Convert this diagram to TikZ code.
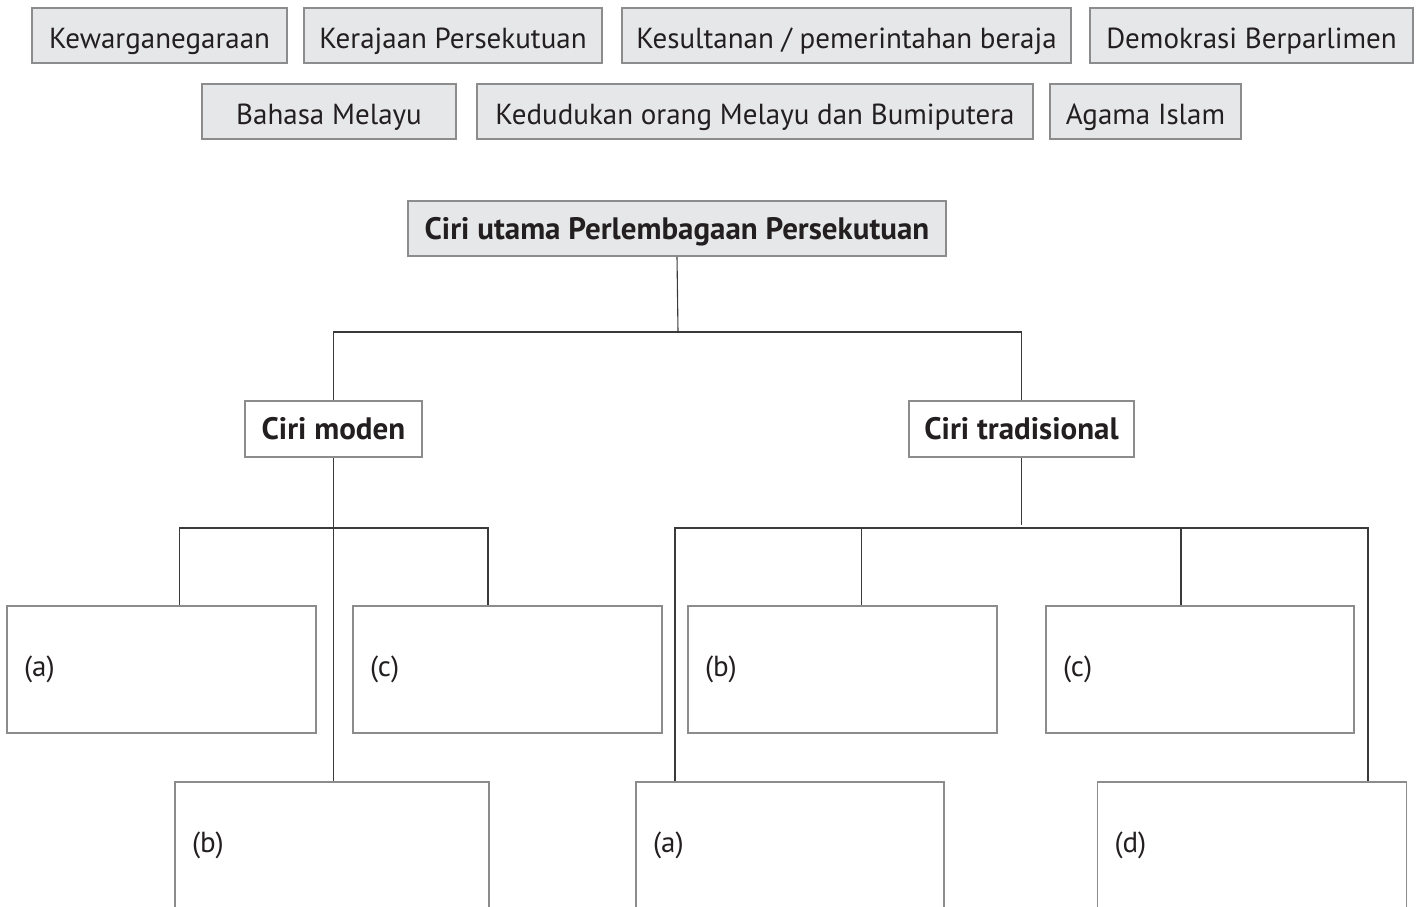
\documentclass[tikz,border=0pt]{standalone}
\usepackage{fontspec}
\setmainfont{PT Sans}
\usetikzlibrary{positioning}
\definecolor{kelabuIsi}{HTML}{E6E7E8}
\definecolor{kelabuGaris}{HTML}{8C8C8C}
\definecolor{hitamTeks}{HTML}{231F20}
\definecolor{hitamGaris}{HTML}{3A3A3A}

\tikzset{
    pilihan/.style = {draw=kelabuGaris, fill=kelabuIsi, line width=1.6pt, minimum height=55pt,
        inner sep=0pt, text height=26pt, text depth=0pt, text=hitamTeks, font=\fontsize{29}{33}\selectfont},
    tajuk/.style = {pilihan, font=\fontsize{31}{35}\selectfont\bfseries, text height=21pt},
    ciri/.style = {tajuk, fill=white, minimum height=56pt},
    jawapan/.style = {draw=kelabuGaris, fill=white, line width=1.6pt, minimum height=127pt,
        inner xsep=17pt, inner ysep=0pt, align=left, text=hitamTeks, font=\fontsize{29}{33}\selectfont},
    garis/.style = {draw=hitamGaris, line width=1.1pt}
}

\begin{document}
\begin{tikzpicture}[x = 1pt, y = -1pt]

            \useasboundingbox (0,0) rectangle (1421,907);

            \node[pilihan, minimum width=255pt] (warga) at (159.5,35.5) {Kewarganegaraan};
            \node[pilihan, minimum width=298pt] (kerajaan) at (453,35.5) {Kerajaan Persekutuan};
            \node[pilihan, minimum width=449pt] (sultan) at (846.5,35.5) {Kesultanan / pemerintahan beraja};
            \node[pilihan, minimum width=323pt] (demokrasi) at (1251.5,35.5) {Demokrasi Berparlimen};

            \node[pilihan, minimum width=254pt] (bahasa) at (329,111.5) {Bahasa Melayu};
            \node[pilihan, minimum width=556pt] (kedudukan) at (755,111.5) {Kedudukan orang Melayu dan Bumiputera};
            \node[pilihan, minimum width=191pt] (agama) at (1145.5,111.5) {Agama Islam};

            \node[tajuk, minimum width=538pt] (utama) at (677,228.5) {Ciri utama Perlembagaan Persekutuan};
            \node[ciri, minimum width=177pt] (moden) at (333.5,429) {Ciri moden};
            \node[ciri, minimum width=225pt] (tradisi) at (1021.5,429) {Ciri tradisional};

            \node[jawapan, text width=275pt] (modenA) at (161.5,669.5) {(a)};
            \node[jawapan, text width=275pt] (modenC) at (507.5,669.5) {(c)};
            \node[jawapan, text width=280pt] (modenB) at (332,845.5) {(b)};

            \node[jawapan, text width=275pt] (tradisiB) at (842.5,669.5) {(b)};
            \node[jawapan, text width=274pt] (tradisiC) at (1200,669.5) {(c)};
            \node[jawapan, text width=274pt] (tradisiA) at (790,845.5) {(a)};
            \node[jawapan, text width=275pt] (tradisiD) at (1252,845.5) {(d)};

            \coordinate (cabang) at (678,332);
            \coordinate (cabangM) at (334,528);
            \coordinate (cabangT) at (1021.5,528);

            \draw[garis] (utama.south) -- (cabang);
            \draw[garis] (moden.north) |- (cabang) -| (tradisi.north);

            \draw[garis] (moden.south) -- (moden.south |- modenB.north);
            \draw[garis] ([xshift=18pt]modenA.north) |- (cabangM) -| ([xshift=-19.5pt]modenC.north);

            \draw[garis] (tradisi.south) -- ([yshift=3pt]cabangT);
            \draw[garis] ([xshift=-115pt]tradisiA.north) |- (cabangT) -| ([xshift=116pt]tradisiD.north);
            \draw[garis] ([xshift=19pt]tradisiB.north) -- ([xshift=19pt]tradisiB.north |- cabangT);
            \draw[garis] ([xshift=-19pt]tradisiC.north) -- ([xshift=-19pt]tradisiC.north |- cabangT);
        \end{tikzpicture}
\end{document}
